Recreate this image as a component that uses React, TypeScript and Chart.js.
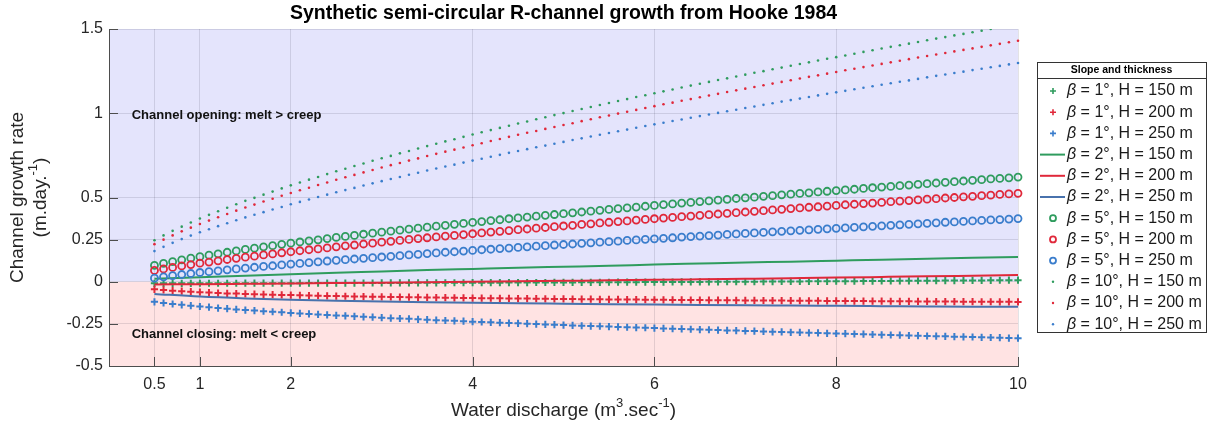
import React, { useEffect, useRef } from "react";
import { Chart, registerables } from "chart.js";
Chart.register(...registerables);

// Water discharge (m3/s) sampled for markers
const discharge = [
  0.5, 0.6, 0.7, 0.8, 0.9, 1.0, 1.1, 1.2, 1.3, 1.4, 1.5, 1.6, 1.7, 1.8, 1.9,
  2.0, 2.1, 2.2, 2.3, 2.4, 2.5, 2.6, 2.7, 2.8, 2.9, 3.0, 3.1, 3.2, 3.3, 3.4,
  3.5, 3.6, 3.7, 3.8, 3.9, 4.0, 4.1, 4.2, 4.3, 4.4, 4.5, 4.6, 4.7, 4.8, 4.9,
  5.0, 5.1, 5.2, 5.3, 5.4, 5.5, 5.6, 5.7, 5.8, 5.9, 6.0, 6.1, 6.2, 6.3, 6.4,
  6.5, 6.6, 6.7, 6.8, 6.9, 7.0, 7.1, 7.2, 7.3, 7.4, 7.5, 7.6, 7.7, 7.8, 7.9,
  8.0, 8.1, 8.2, 8.3, 8.4, 8.5, 8.6, 8.7, 8.8, 8.9, 9.0, 9.1, 9.2, 9.3, 9.4,
  9.5, 9.6, 9.7, 9.8, 9.9, 10.0,
];
// Discharge samples used for the continuous β = 2° curves
const dischargeLine = [0.5, 1, 1.5, 2, 2.5, 3, 3.5, 4, 4.5, 5, 5.5, 6, 6.5, 7, 7.5, 8, 8.5, 9, 9.5, 10];

const xTicks = [0.5, 1, 2, 4, 6, 8, 10];
const yTicks = [-0.5, -0.25, 0, 0.25, 0.5, 1, 1.5];

// β = 1°
const b1h150 = [
  -0.0093, -0.0092, -0.0092, -0.0091, -0.0091, -0.009, -0.0089, -0.0089, -0.0088, -0.0088,
  -0.0087, -0.0086, -0.0085, -0.0085, -0.0084, -0.0083, -0.0082, -0.0081, -0.008, -0.0079,
  -0.0078, -0.0077, -0.0076, -0.0074, -0.0073, -0.0072, -0.0071, -0.0069, -0.0068, -0.0066,
  -0.0065, -0.0063, -0.0062, -0.006, -0.0059, -0.0057, -0.0055, -0.0054, -0.0052, -0.0051,
  -0.0049, -0.0047, -0.0045, -0.0044, -0.0042, -0.004, -0.0038, -0.0036, -0.0034, -0.0032,
  -0.003, -0.0028, -0.0026, -0.0023, -0.0021, -0.0019, -0.0017, -0.0015, -0.0012, -0.001,
  -0.0008, -0.0006, -0.0003, -0.0001, 0.0002, 0.0004, 0.0007, 0.001, 0.0012, 0.0015,
  0.0018, 0.0021, 0.0023, 0.0026, 0.0028, 0.0031, 0.0034, 0.0037, 0.004, 0.0043,
  0.0046, 0.0049, 0.0052, 0.0056, 0.0059, 0.0062, 0.0065, 0.0068, 0.0072, 0.0075,
  0.0078, 0.0081, 0.0085, 0.0088, 0.0092, 0.0095,
];
const b1h200 = [
  -0.045, -0.049, -0.053, -0.056, -0.059, -0.062, -0.064, -0.067, -0.069, -0.07,
  -0.072, -0.074, -0.075, -0.077, -0.078, -0.079, -0.08, -0.082, -0.083, -0.084,
  -0.085, -0.086, -0.087, -0.088, -0.089, -0.0895, -0.0903, -0.091, -0.0918, -0.0926,
  -0.0933, -0.094, -0.0947, -0.0953, -0.096, -0.0967, -0.0973, -0.0979, -0.0984, -0.099,
  -0.0996, -0.1001, -0.1006, -0.1012, -0.1017, -0.1022, -0.1027, -0.1032, -0.1036, -0.1041,
  -0.1046, -0.105, -0.1055, -0.1059, -0.1064, -0.1068, -0.1072, -0.1076, -0.108, -0.1084,
  -0.1088, -0.1092, -0.1095, -0.1099, -0.1102, -0.1106, -0.111, -0.1113, -0.1117, -0.112,
  -0.1124, -0.1127, -0.113, -0.1134, -0.1137, -0.114, -0.1143, -0.1146, -0.1149, -0.1152,
  -0.1155, -0.1158, -0.1161, -0.1163, -0.1166, -0.1169, -0.1172, -0.1175, -0.1177, -0.118,
  -0.1183, -0.1186, -0.1188, -0.1191, -0.1193, -0.1196,
];
const b1h250 = [
  -0.119, -0.126, -0.132, -0.137, -0.142, -0.147, -0.151, -0.156, -0.16, -0.164,
  -0.168, -0.171, -0.175, -0.178, -0.181, -0.185, -0.188, -0.191, -0.194, -0.197,
  -0.2, -0.202, -0.205, -0.208, -0.21, -0.213, -0.216, -0.218, -0.22, -0.223,
  -0.225, -0.228, -0.23, -0.232, -0.234, -0.237, -0.239, -0.241, -0.243, -0.245,
  -0.247, -0.249, -0.251, -0.253, -0.255, -0.257, -0.259, -0.261, -0.263, -0.264,
  -0.266, -0.268, -0.27, -0.272, -0.273, -0.275, -0.277, -0.279, -0.28, -0.282,
  -0.284, -0.285, -0.287, -0.289, -0.29, -0.292, -0.293, -0.295, -0.297, -0.298,
  -0.3, -0.301, -0.303, -0.304, -0.306, -0.307, -0.308, -0.31, -0.311, -0.313,
  -0.315, -0.316, -0.317, -0.319, -0.32, -0.322, -0.323, -0.324, -0.326, -0.327,
  -0.328, -0.33, -0.331, -0.332, -0.334, -0.335,
];

// β = 2° (continuous curves)
const b2h150 = [0.018, 0.027, 0.036, 0.045, 0.054, 0.061, 0.069, 0.076, 0.083, 0.089, 0.095, 0.102, 0.108, 0.114, 0.119, 0.125, 0.131, 0.136, 0.142, 0.147];
const b2h200 = [-0.0162, -0.0143, -0.0122, -0.0101, -0.0078, -0.0054, -0.0029, -0.0003, 0.0024, 0.0053, 0.0082, 0.0113, 0.0145, 0.0178, 0.0212, 0.0247, 0.0284, 0.0321, 0.036, 0.04];
const b2h250 = [-0.072, -0.088, -0.0987, -0.1064, -0.1123, -0.1171, -0.1212, -0.1247, -0.1279, -0.1306, -0.1332, -0.1355, -0.1376, -0.1396, -0.1414, -0.1431, -0.1447, -0.1462, -0.1477, -0.149];

// β = 5°
const b5h150 = [
  0.097, 0.109, 0.119, 0.13, 0.14, 0.149, 0.158, 0.166, 0.175, 0.183,
  0.192, 0.199, 0.207, 0.214, 0.222, 0.229, 0.236, 0.243, 0.249, 0.256,
  0.263, 0.269, 0.275, 0.282, 0.288, 0.294, 0.3, 0.306, 0.312, 0.318,
  0.324, 0.33, 0.335, 0.341, 0.346, 0.352, 0.357, 0.363, 0.368, 0.374,
  0.379, 0.384, 0.389, 0.394, 0.399, 0.404, 0.409, 0.414, 0.419, 0.424,
  0.429, 0.434, 0.439, 0.443, 0.448, 0.453, 0.458, 0.462, 0.467, 0.471,
  0.476, 0.48, 0.485, 0.489, 0.494, 0.498, 0.502, 0.507, 0.511, 0.516,
  0.52, 0.524, 0.528, 0.533, 0.537, 0.541, 0.545, 0.549, 0.554, 0.558,
  0.562, 0.566, 0.57, 0.574, 0.578, 0.582, 0.586, 0.59, 0.594, 0.598,
  0.602, 0.606, 0.61, 0.613, 0.617, 0.621,
];
const b5h200 = [
  0.067, 0.076, 0.085, 0.094, 0.102, 0.11, 0.117, 0.124, 0.132, 0.139,
  0.146, 0.152, 0.159, 0.165, 0.172, 0.178, 0.184, 0.19, 0.195, 0.201,
  0.207, 0.213, 0.218, 0.224, 0.229, 0.235, 0.24, 0.245, 0.251, 0.256,
  0.261, 0.266, 0.271, 0.275, 0.28, 0.285, 0.29, 0.295, 0.299, 0.304,
  0.309, 0.313, 0.318, 0.322, 0.327, 0.331, 0.335, 0.34, 0.344, 0.349,
  0.353, 0.357, 0.361, 0.366, 0.37, 0.374, 0.378, 0.382, 0.386, 0.39,
  0.394, 0.398, 0.402, 0.406, 0.41, 0.414, 0.418, 0.422, 0.426, 0.43,
  0.434, 0.438, 0.442, 0.445, 0.449, 0.453, 0.457, 0.46, 0.464, 0.467,
  0.471, 0.475, 0.479, 0.482, 0.486, 0.49, 0.493, 0.497, 0.5, 0.504,
  0.507, 0.511, 0.514, 0.518, 0.521, 0.525,
];
const b5h250 = [
  0.021, 0.029, 0.036, 0.043, 0.049, 0.055, 0.06, 0.065, 0.071, 0.076,
  0.081, 0.086, 0.091, 0.095, 0.1, 0.105, 0.109, 0.114, 0.118, 0.123,
  0.127, 0.131, 0.135, 0.139, 0.143, 0.147, 0.151, 0.155, 0.159, 0.163,
  0.167, 0.171, 0.175, 0.178, 0.182, 0.186, 0.19, 0.193, 0.197, 0.2,
  0.204, 0.207, 0.211, 0.214, 0.218, 0.221, 0.224, 0.228, 0.231, 0.235,
  0.238, 0.241, 0.245, 0.248, 0.252, 0.255, 0.258, 0.261, 0.265, 0.268,
  0.271, 0.274, 0.277, 0.281, 0.284, 0.287, 0.29, 0.293, 0.296, 0.299,
  0.302, 0.305, 0.308, 0.311, 0.314, 0.317, 0.32, 0.323, 0.326, 0.329,
  0.332, 0.335, 0.338, 0.341, 0.344, 0.347, 0.35, 0.353, 0.355, 0.358,
  0.361, 0.364, 0.367, 0.369, 0.372, 0.375,
];

// β = 10°
const b10h150 = [
  0.246, 0.275, 0.302, 0.327, 0.352, 0.375, 0.397, 0.418, 0.439, 0.46,
  0.48, 0.498, 0.517, 0.535, 0.554, 0.572, 0.589, 0.606, 0.622, 0.639,
  0.656, 0.671, 0.687, 0.702, 0.718, 0.733, 0.747, 0.762, 0.776, 0.791,
  0.805, 0.819, 0.833, 0.846, 0.86, 0.874, 0.887, 0.9, 0.913, 0.926,
  0.939, 0.951, 0.964, 0.976, 0.989, 1.001, 1.013, 1.025, 1.037, 1.049,
  1.061, 1.073, 1.084, 1.096, 1.107, 1.119, 1.13, 1.141, 1.153, 1.164,
  1.175, 1.186, 1.197, 1.207, 1.218, 1.229, 1.24, 1.25, 1.261, 1.271,
  1.282, 1.292, 1.302, 1.313, 1.323, 1.333, 1.343, 1.353, 1.364, 1.374,
  1.384, 1.394, 1.404, 1.413, 1.423, 1.433, 1.443, 1.452, 1.462, 1.471,
  1.481, 1.49, 1.5, 1.509, 1.519, 1.528,
];
const b10h200 = [
  0.223, 0.25, 0.275, 0.299, 0.321, 0.343, 0.363, 0.383, 0.402, 0.422,
  0.441, 0.458, 0.476, 0.493, 0.51, 0.527, 0.543, 0.558, 0.574, 0.589,
  0.605, 0.62, 0.634, 0.649, 0.663, 0.678, 0.692, 0.705, 0.719, 0.732,
  0.746, 0.759, 0.772, 0.784, 0.797, 0.81, 0.822, 0.835, 0.847, 0.86,
  0.872, 0.884, 0.895, 0.907, 0.918, 0.93, 0.941, 0.953, 0.964, 0.976,
  0.987, 0.998, 1.009, 1.02, 1.031, 1.042, 1.053, 1.063, 1.074, 1.084,
  1.095, 1.105, 1.115, 1.126, 1.136, 1.146, 1.156, 1.166, 1.176, 1.186,
  1.196, 1.206, 1.216, 1.225, 1.235, 1.245, 1.255, 1.264, 1.274, 1.283,
  1.293, 1.302, 1.312, 1.321, 1.331, 1.34, 1.349, 1.358, 1.367, 1.376,
  1.385, 1.394, 1.403, 1.412, 1.421, 1.43,
];
const b10h250 = [
  0.182, 0.207, 0.231, 0.253, 0.274, 0.294, 0.312, 0.33, 0.347, 0.365,
  0.382, 0.398, 0.413, 0.429, 0.444, 0.46, 0.474, 0.488, 0.503, 0.517,
  0.531, 0.544, 0.557, 0.571, 0.584, 0.597, 0.61, 0.622, 0.635, 0.647,
  0.66, 0.672, 0.684, 0.695, 0.707, 0.719, 0.73, 0.742, 0.753, 0.765,
  0.776, 0.787, 0.798, 0.808, 0.819, 0.83, 0.841, 0.851, 0.862, 0.872,
  0.883, 0.893, 0.903, 0.914, 0.924, 0.934, 0.944, 0.954, 0.963, 0.973,
  0.983, 0.993, 1.002, 1.012, 1.021, 1.031, 1.04, 1.05, 1.059, 1.069,
  1.078, 1.087, 1.096, 1.106, 1.115, 1.124, 1.133, 1.142, 1.151, 1.16,
  1.169, 1.178, 1.187, 1.195, 1.204, 1.213, 1.222, 1.23, 1.239, 1.247,
  1.256, 1.264, 1.273, 1.281, 1.29, 1.298,
];

const slopes = [1, 1, 1, 2, 2, 2, 5, 5, 5, 10, 10, 10];
const thicknesses = [150, 200, 250, 150, 200, 250, 150, 200, 250, 150, 200, 250];

const GREEN = "#2f9c5e";
const RED = "#e0283a";
const BLUE = "#3a7dcc";
const BLUE_LINE = "#4872ad";
const FONT = '"Liberation Sans", Arial, Helvetica, sans-serif';

type Kind = "cross" | "line" | "circle" | "dot";
const seriesSpec: { values: number[]; kind: Kind; color: string }[] = [
  { values: b1h150, kind: "cross", color: GREEN },
  { values: b1h200, kind: "cross", color: RED },
  { values: b1h250, kind: "cross", color: BLUE },
  { values: b2h150, kind: "line", color: GREEN },
  { values: b2h200, kind: "line", color: RED },
  { values: b2h250, kind: "line", color: BLUE_LINE },
  { values: b5h150, kind: "circle", color: GREEN },
  { values: b5h200, kind: "circle", color: RED },
  { values: b5h250, kind: "circle", color: BLUE },
  { values: b10h150, kind: "dot", color: GREEN },
  { values: b10h200, kind: "dot", color: RED },
  { values: b10h250, kind: "dot", color: BLUE },
];

type Part = [string, boolean];
function drawRich(ctx: CanvasRenderingContext2D, parts: Part[], x: number, y: number, size: number, color: string) {
  const nf = `${size}px ${FONT}`;
  const sf = `${Math.round(size * 0.68)}px ${FONT}`;
  let total = 0;
  const widths = parts.map(([t, sup]) => {
    ctx.font = sup ? sf : nf;
    const w = ctx.measureText(t).width;
    total += w;
    return w;
  });
  let cx = x - total / 2;
  ctx.fillStyle = color;
  ctx.textBaseline = "middle";
  ctx.textAlign = "left";
  parts.forEach(([t, sup], i) => {
    ctx.font = sup ? sf : nf;
    ctx.fillText(t, cx, sup ? y - size * 0.42 : y);
    cx += widths[i];
  });
}

const decorPlugin = {
  id: "decor",
  beforeDraw(chart: any) {
    const { ctx, chartArea, scales } = chart;
    const { left, right, top, bottom } = chartArea;
    const y0 = scales.y.getPixelForValue(0);
    ctx.save();
    ctx.fillStyle = "#ffffff";
    ctx.fillRect(0, 0, chart.width, chart.height);
    ctx.fillStyle = "#e4e4fc";
    ctx.fillRect(left, top, right - left, y0 - top);
    ctx.fillStyle = "#ffe3e3";
    ctx.fillRect(left, y0, right - left, bottom - y0);
    ctx.restore();
  },
  afterDatasetsDraw(chart: any) {
    const { ctx, scales } = chart;
    ctx.save();
    ctx.font = `bold 13px ${FONT}`;
    ctx.fillStyle = "#111111";
    ctx.textAlign = "left";
    ctx.textBaseline = "middle";
    ctx.fillText("Channel opening: melt > creep", scales.x.getPixelForValue(0.25), scales.y.getPixelForValue(0.99));
    ctx.fillText("Channel closing: melt < creep", scales.x.getPixelForValue(0.25), scales.y.getPixelForValue(-0.31));
    ctx.restore();
  },
  afterDraw(chart: any) {
    const { ctx, chartArea, scales } = chart;
    const { left, right, top, bottom } = chartArea;
    ctx.save();
    // inward ticks
    ctx.strokeStyle = "#4d4d4d";
    ctx.lineWidth = 1;
    ctx.beginPath();
    xTicks.forEach((v) => {
      const px = Math.round(scales.x.getPixelForValue(v)) + 0.5;
      ctx.moveTo(px, bottom);
      ctx.lineTo(px, bottom - 9);
    });
    yTicks.forEach((v) => {
      const py = Math.round(scales.y.getPixelForValue(v)) + 0.5;
      ctx.moveTo(left, py);
      ctx.lineTo(left + 9, py);
    });
    ctx.stroke();

    // title
    ctx.fillStyle = "#000000";
    ctx.font = `bold 19.5px ${FONT}`;
    ctx.textAlign = "center";
    ctx.textBaseline = "middle";
    ctx.fillText("Synthetic semi-circular R-channel growth from Hooke 1984", (left + right) / 2, 14);

    // x axis title
    drawRich(ctx, [["Water discharge (m", false], ["3", true], [".sec", false], ["-1", true], [")", false]], (left + right) / 2, 411, 19, "#262626");

    // y axis title (two centred lines)
    ctx.save();
    ctx.translate(18, (top + bottom) / 2);
    ctx.rotate(-Math.PI / 2);
    drawRich(ctx, [["Channel growth rate", false]], 0, 0, 19, "#262626");
    ctx.restore();
    ctx.save();
    ctx.translate(41, (top + bottom) / 2);
    ctx.rotate(-Math.PI / 2);
    drawRich(ctx, [["(m.day.", false], ["-1", true], [")", false]], 0, 0, 19, "#262626");
    ctx.restore();

    // legend
    const lx = 1037, ly = 62, lw = 169, lh = 270;
    ctx.fillStyle = "#ffffff";
    ctx.fillRect(lx, ly, lw, lh);
    ctx.strokeStyle = "#333333";
    ctx.lineWidth = 1;
    ctx.strokeRect(lx + 0.5, ly + 0.5, lw, lh);
    ctx.beginPath();
    ctx.moveTo(lx, ly + 16.5);
    ctx.lineTo(lx + lw, ly + 16.5);
    ctx.stroke();
    ctx.fillStyle = "#000000";
    ctx.font = `bold 10.5px ${FONT}`;
    ctx.textAlign = "center";
    ctx.textBaseline = "middle";
    ctx.fillText("Slope and thickness", lx + lw / 2, ly + 8.5);

    seriesSpec.forEach((s, i) => {
      const cy = 91 + i * 21.2;
      const mx = 1053;
      ctx.strokeStyle = s.color;
      ctx.fillStyle = s.color;
      if (s.kind === "cross") {
        ctx.lineWidth = 1.6;
        ctx.beginPath();
        ctx.moveTo(mx - 3, cy);
        ctx.lineTo(mx + 3, cy);
        ctx.moveTo(mx, cy - 3);
        ctx.lineTo(mx, cy + 3);
        ctx.stroke();
      } else if (s.kind === "line") {
        ctx.lineWidth = 2;
        ctx.beginPath();
        ctx.moveTo(1040, cy);
        ctx.lineTo(1065, cy);
        ctx.stroke();
      } else if (s.kind === "circle") {
        ctx.lineWidth = 1.8;
        ctx.beginPath();
        ctx.arc(mx, cy, 3, 0, Math.PI * 2);
        ctx.stroke();
      } else {
        ctx.beginPath();
        ctx.arc(mx, cy, 1.2, 0, Math.PI * 2);
        ctx.fill();
      }
      ctx.fillStyle = "#1a1a1a";
      ctx.textAlign = "left";
      ctx.textBaseline = "middle";
      ctx.font = `italic 16px ${FONT}`;
      ctx.fillText("β", 1067, cy);
      const bw = ctx.measureText("β").width;
      ctx.font = `16px ${FONT}`;
      ctx.fillText(` = ${slopes[i]}°, H = ${thicknesses[i]} m`, 1067 + bw, cy);
    });
    ctx.restore();
  },
};

export default function App() {
  const canvasRef = useRef<HTMLCanvasElement | null>(null);

  useEffect(() => {
    const canvas = canvasRef.current;
    if (!canvas) return;
    const datasets = seriesSpec.map((s, i) => {
      const xs = s.kind === "line" ? dischargeLine : discharge;
      const data = xs.map((q, k) => ({ x: q, y: s.values[k] }));
      const base: any = {
        label: `β = ${slopes[i]}°, H = ${thicknesses[i]} m`,
        data,
        order: seriesSpec.length - i,
        clip: { left: 6, right: 6, top: 0, bottom: 6 },
      };
      if (s.kind === "line") {
        return { ...base, showLine: true, borderColor: s.color, borderWidth: 2, pointRadius: 0, cubicInterpolationMode: "monotone" };
      }
      if (s.kind === "cross") {
        return { ...base, showLine: false, pointStyle: "cross", pointRadius: 3.6, borderColor: s.color, borderWidth: 2, backgroundColor: s.color };
      }
      if (s.kind === "circle") {
        return { ...base, showLine: false, pointStyle: "circle", pointRadius: 3.5, borderColor: s.color, borderWidth: 1.8, backgroundColor: "rgba(0,0,0,0)" };
      }
      return { ...base, showLine: false, pointStyle: "circle", pointRadius: 1.3, borderWidth: 0, backgroundColor: s.color, borderColor: s.color };
    });

    const chart = new Chart(canvas, {
      type: "scatter",
      data: { datasets },
      options: {
        animation: false,
        responsive: false,
        devicePixelRatio: 1,
        layout: { padding: { top: 29, right: 190, bottom: 0, left: 0 } },
        plugins: { legend: { display: false }, title: { display: false }, tooltip: { enabled: false } },
        events: [],
        scales: {
          x: {
            type: "linear",
            min: 0,
            max: 10,
            afterFit: (s: any) => { s.height = 65; },
            afterBuildTicks: (s: any) => { s.ticks = xTicks.map((value) => ({ value })); },
            grid: { color: "rgba(40,40,60,0.13)", drawTicks: false },
            border: { display: true, color: "#4d4d4d", width: 1 },
            ticks: { font: { family: FONT, size: 16 }, color: "#262626", padding: 9, maxRotation: 0, autoSkip: false, callback: (v: any) => String(v) },
          },
          y: {
            type: "linear",
            min: -0.5,
            max: 1.5,
            afterFit: (s: any) => { s.width = 109; },
            afterBuildTicks: (s: any) => { s.ticks = yTicks.map((value) => ({ value })); },
            grid: { color: "rgba(40,40,60,0.13)", drawTicks: false },
            border: { display: true, color: "#4d4d4d", width: 1 },
            ticks: { font: { family: FONT, size: 16 }, color: "#262626", padding: 6, autoSkip: false, callback: (v: any) => String(v) },
          },
        },
      },
      plugins: [decorPlugin],
    } as any);
    return () => chart.destroy();
  }, []);

  return (
    <div style={{ position: "absolute", left: 0, top: 0, width: 1208, height: 431, background: "#fff" }}>
      <canvas ref={canvasRef} width={1208} height={431} style={{ display: "block", width: 1208, height: 431 }} />
    </div>
  );
}
